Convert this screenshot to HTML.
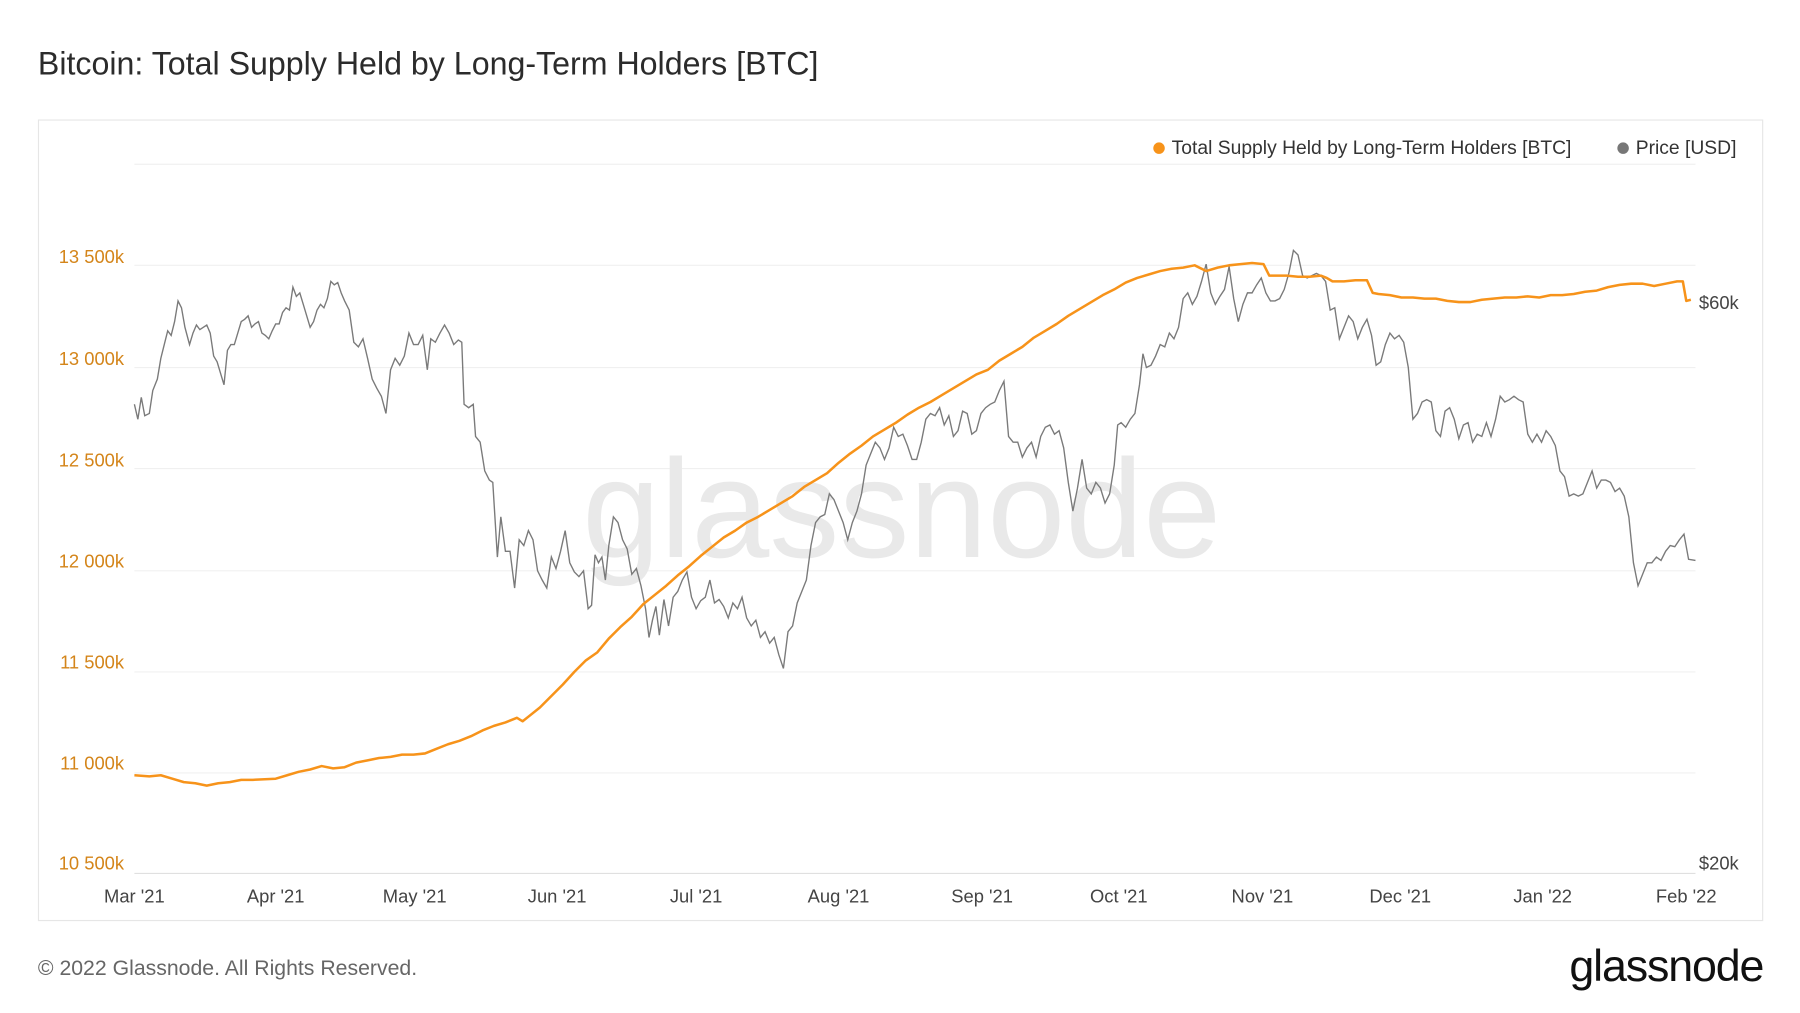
<!DOCTYPE html>
<html><head><meta charset="utf-8"><style>html,body{margin:0;padding:0;background:#fff}svg{display:block}</style></head>
<body>
<svg width="1800" height="1013" viewBox="0 0 1567 882" preserveAspectRatio="none" xmlns="http://www.w3.org/2000/svg" font-family="Liberation Sans, sans-serif">
<rect width="1567" height="882" fill="#fff"/>
<text x="33" y="65" font-size="28" fill="#2b2b2b">Bitcoin: Total Supply Held by Long-Term Holders [BTC]</text>
<rect x="33.5" y="104.5" width="1501" height="697" fill="none" stroke="#e6e6e6"/>
<g stroke="#f0f0f0" stroke-width="1">
<line x1="117" x2="1476" y1="143" y2="143"/><line x1="117" x2="1476" y1="231" y2="231"/><line x1="117" x2="1476" y1="320" y2="320"/><line x1="117" x2="1476" y1="408" y2="408"/><line x1="117" x2="1476" y1="497" y2="497"/><line x1="117" x2="1476" y1="585" y2="585"/><line x1="117" x2="1476" y1="673" y2="673"/>
</g>
<line x1="117" x2="1476" y1="760.5" y2="760.5" stroke="#e0e0e0"/>
<text x="785" y="485" font-size="122" fill="#e9e9e9" text-anchor="middle">glassnode</text>
<g font-size="16" fill="#d4851a" text-anchor="end">
<text x="108" y="229">13 500k</text><text x="108" y="318">13 000k</text><text x="108" y="406">12 500k</text><text x="108" y="494">12 000k</text><text x="108" y="582">11 500k</text><text x="108" y="670">11 000k</text><text x="108" y="757">10 500k</text>
</g>
<g font-size="16" fill="#444"><text x="1479" y="269">$60k</text><text x="1479" y="757">$20k</text></g>
<g font-size="16" fill="#444" text-anchor="middle">
<text x="117" y="786">Mar '21</text><text x="240" y="786">Apr '21</text><text x="361" y="786">May '21</text><text x="485" y="786">Jun '21</text><text x="606" y="786">Jul '21</text><text x="730" y="786">Aug '21</text><text x="855" y="786">Sep '21</text><text x="974" y="786">Oct '21</text><text x="1099" y="786">Nov '21</text><text x="1219" y="786">Dec '21</text><text x="1343" y="786">Jan '22</text><text x="1468" y="786">Feb '22</text>
</g>
<circle cx="1009" cy="129" r="5" fill="#f7931a"/>
<text x="1020" y="134" font-size="16.8" fill="#333">Total Supply Held by Long-Term Holders [BTC]</text>
<circle cx="1413" cy="129" r="5" fill="#777"/>
<text x="1424" y="134" font-size="16.8" fill="#333">Price [USD]</text>
<polyline fill="none" stroke="#7a7a7a" stroke-width="1.2" points="117,352 120,365 123,346 126,362 130,360 133,340 137,330 140,312 143,300 146,288 149,292 152,280 155,262 158,268 161,285 165,300 168,290 171,283 174,287 177,285 180,283 183,290 186,310 189,315 192,325 195,335 198,305 201,300 204,300 207,290 210,280 213,278 216,275 219,285 222,282 225,280 228,290 231,292 234,295 237,288 240,282 243,282 246,272 249,268 252,270 255,250 258,258 261,255 264,265 267,275 270,285 273,280 276,270 279,265 282,268 285,260 288,245 291,248 294,246 297,255 300,262 304,270 308,298 312,302 316,295 320,312 324,330 328,338 332,345 336,360 340,322 344,312 348,318 352,310 356,290 360,300 364,300 368,292 372,322 375,295 379,298 383,290 387,283 391,290 395,300 399,296 402,298 404,352 408,355 412,352 414,380 418,385 422,410 426,418 429,420 433,485 436,450 440,480 444,480 448,512 452,470 456,475 460,462 464,470 468,497 472,505 476,512 480,485 484,495 488,480 492,462 496,490 500,498 504,502 508,497 512,530 515,527 518,483 521,490 524,485 527,505 530,475 534,450 538,455 542,470 546,478 550,500 554,495 558,510 562,530 565,555 568,540 571,528 574,553 578,522 582,545 586,520 590,515 594,505 598,498 602,520 606,530 610,523 614,520 618,505 622,525 626,522 630,528 634,538 638,525 642,530 646,520 650,538 654,545 658,540 662,555 666,550 670,560 674,555 678,570 682,582 686,550 690,545 694,525 698,515 702,505 706,475 710,455 714,450 718,448 722,430 726,435 730,445 734,455 738,470 742,455 746,445 750,430 754,405 758,395 762,385 766,390 770,400 774,390 778,372 782,380 786,378 790,388 794,400 798,400 802,385 806,365 810,360 814,362 818,355 822,370 826,362 830,380 834,375 838,358 842,360 846,378 850,375 854,360 858,355 862,352 866,350 870,340 874,332 878,380 882,385 886,385 890,398 894,390 898,385 902,398 906,380 910,372 914,370 918,378 922,375 926,390 930,420 934,445 938,425 942,400 946,425 950,430 954,420 958,425 962,438 966,430 970,405 973,370 976,368 980,372 984,365 988,360 992,335 995,308 998,320 1002,318 1006,310 1010,300 1014,302 1018,290 1022,295 1026,285 1030,260 1034,255 1038,265 1042,258 1046,245 1050,230 1054,255 1058,265 1062,258 1066,252 1070,232 1074,260 1078,280 1082,265 1086,255 1090,255 1094,248 1098,242 1102,255 1106,262 1110,262 1114,260 1118,252 1122,238 1126,218 1130,222 1134,240 1138,242 1142,240 1146,238 1150,240 1154,245 1158,270 1162,268 1166,295 1170,285 1174,275 1178,280 1182,295 1186,285 1190,278 1194,292 1198,318 1202,315 1206,300 1210,290 1214,295 1218,292 1222,298 1226,320 1230,365 1234,360 1238,350 1242,348 1246,350 1250,375 1254,380 1258,358 1262,355 1266,365 1270,382 1274,370 1278,368 1282,385 1286,378 1290,380 1294,368 1298,380 1302,365 1306,345 1310,350 1314,348 1318,345 1322,348 1326,350 1330,378 1334,385 1338,378 1342,385 1346,375 1350,380 1354,388 1358,410 1362,415 1366,432 1370,430 1374,432 1378,430 1382,420 1386,410 1390,425 1394,418 1398,418 1402,420 1406,428 1410,425 1414,432 1418,450 1422,490 1426,510 1430,500 1434,490 1438,490 1442,485 1446,488 1450,480 1454,475 1458,476 1462,470 1466,465 1470,487 1476,488"/>
<polyline fill="none" stroke="#f7931a" stroke-width="2.2" stroke-linejoin="round" points="117,675 130,676 140,675 150,678 160,681 170,682 180,684 190,682 200,681 210,679 220,679 240,678 250,675 260,672 270,670 280,667 290,669 300,668 310,664 320,662 330,660 340,659 350,657 360,657 370,656 380,652 390,648 400,645 410,641 420,636 430,632 440,629 450,625 455,628 460,624 470,616 480,606 490,596 500,585 510,575 520,568 530,556 540,546 550,537 560,526 570,518 580,510 590,501 600,493 610,484 620,476 630,468 640,462 650,455 660,450 670,444 680,438 690,432 700,424 710,418 720,412 730,403 740,395 750,388 760,380 770,374 780,368 790,361 800,355 810,350 820,344 830,338 840,332 850,326 860,322 870,314 880,308 890,302 900,294 910,288 920,282 930,275 940,269 950,263 960,257 970,252 980,246 990,242 1000,239 1010,236 1020,234 1030,233 1040,231 1050,236 1060,233 1070,231 1080,230 1090,229 1100,230 1105,240 1110,240 1120,240 1130,241 1140,241 1150,240 1155,242 1160,245 1170,245 1180,244 1190,244 1195,255 1200,256 1210,257 1220,259 1230,259 1240,260 1250,260 1260,262 1270,263 1280,263 1290,261 1300,260 1310,259 1320,259 1330,258 1340,259 1350,257 1360,257 1370,256 1380,254 1390,253 1400,250 1410,248 1420,247 1430,247 1440,249 1450,247 1460,245 1465,245 1468,262 1472,261"/>
<text x="33" y="849" font-size="18.5" fill="#666">© 2022 Glassnode. All Rights Reserved.</text>
<text x="1535" y="854" font-size="39" fill="#111" text-anchor="end" letter-spacing="-1">glassnode</text>
</svg>
</body></html>
